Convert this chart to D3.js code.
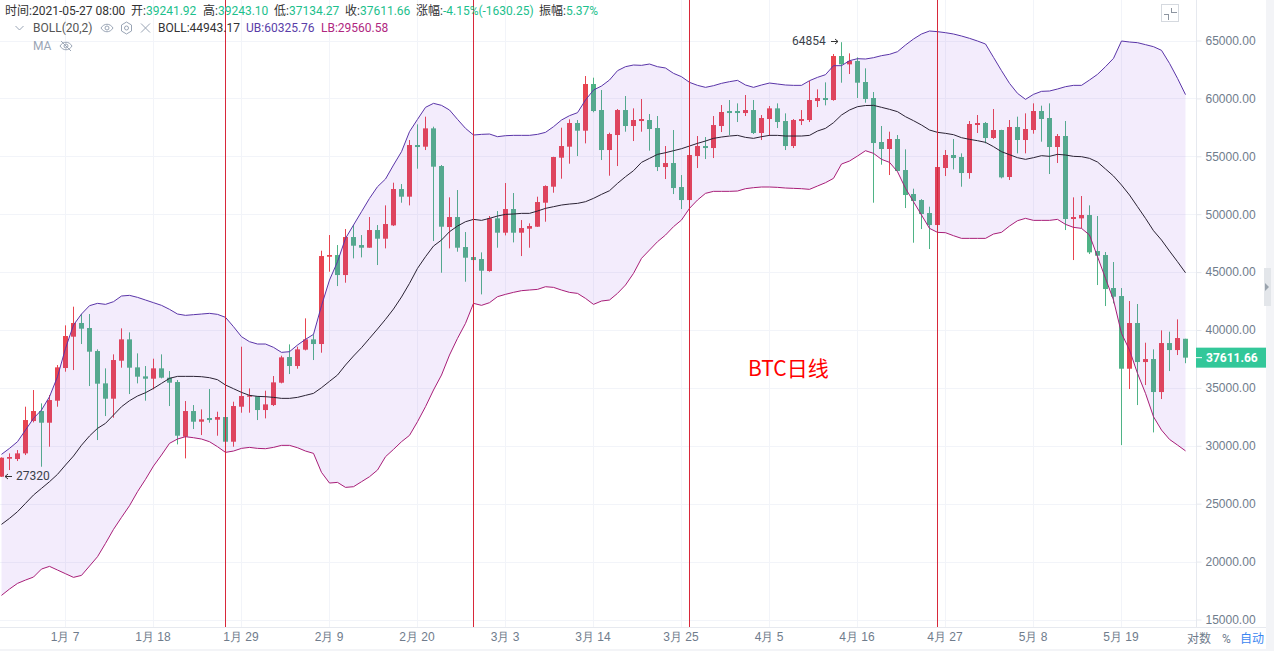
<!DOCTYPE html>
<html>
<head>
<meta charset="utf-8">
<script src="https://cdn.jsdelivr.net/npm/d3@7/dist/d3.min.js"></script>
<style>
  html, body { margin: 0; padding: 0; background: #fff; overflow: hidden; }
  svg { display: block; font-family: Roboto, "Noto Sans CJK SC", sans-serif; font-size: 12px; }
</style>
</head>
<body>
<svg id="chart" width="1274" height="651"></svg>
<script>
// daily candles, first one is 2020-12-30
const firstDay = "2020-12-30";
const opens = [27331,28885,28857,29346,32138,33002,31994,33895,36716,39422,
  40603,40171,38184,35392,34067,37350,39192,36774,35996,35795,
  36687,35881,35507,30786,33002,32081,32398,32254,32484,30353,
  33377,34240,34269,33089,33520,35449,37666,36889,38300,39192,
  38789,46329,46473,44746,48028,47337,47107,48633,47884,49036,
  52174,51512,55974,55830,57413,54160,48892,49755,47164,46300,
  46128,45092,49640,48402,50446,48402,48748,48920,50993,52375,
  54880,55830,57874,57212,61242,58997,55542,56837,58996,57615,
  58046,58133,57442,54073,54419,52346,51223,55023,55887,55714,
  57615,58910,58910,58737,58996,57010,58219,59140,58046,55887,
  58046,58133,59773,60033,59860,63660,62941,63228,61415,60033,
  56234,55629,56493,53815,51743,51224,50101,49065,53988,55111,
  54938,53556,57702,57875,56579,57270,53211,57529,56407,57270,
  58911,58307,55802,56752,49583,49641,49929,46820,46475,43625,
  42933,36657,40602,37233,37492,34642,38874,38269,39241.92];
const closes = [28971,29030,29346,32225,33002,31994,33952,36774,39480,40603,
  40113,38127,35363,34067,37407,39192,36745,35968,35795,36687,
  35881,35449,30872,33002,32081,32283,32225,32484,30353,33434,
  34298,34355,33089,33578,35478,37637,36889,38328,39192,38789,
  46387,46473,44746,48028,47279,47107,48633,47884,49151,52174,
  51512,55974,55801,57413,54103,48920,49755,47107,46243,46041,
  45120,49640,48402,50446,48402,48805,48978,51051,52433,54938,
  55888,57874,57212,61242,58910,55542,56924,58996,57615,58133,
  58219,57355,54073,54419,52260,51223,55110,55887,55714,57701,
  58824,58737,58737,58996,57010,58305,59140,57960,55887,58133,
  58219,59860,60033,59860,63660,62941,63228,61357,59946,56146,
  55629,56493,53729,51656,51138,50015,49065,54075,55111,54852,
  53556,57788,57875,56579,57270,53182,57529,56407,57357,58911,
  58220,55802,56752,49583,49756,49929,46704,46417,43538,42876,
  36657,40602,37233,37492,34642,38874,38269,39306,37611.66];
const highs = [29000,29346,29634,33377,34816,33664,34384,36975,40401,42014,
  41380,41380,38328,36687,37897,40142,39797,37983,36889,37522,
  37897,36457,35680,33866,33520,33146,34902,32945,32557,33808,
  38559,34960,34298,34758,36025,37781,38760,38559,41006,39624,
  46848,48200,47337,48719,49064,48200,49755,49064,50763,52721,
  52606,56406,57759,58421,57557,54247,51454,52087,48460,48394,
  46703,49842,50273,52692,51828,49496,49208,51512,52490,54960,
  57471,58191,58133,61933,61789,60724,57039,59083,60206,59140,
  59946,58651,58478,55887,57269,53382,55200,56751,56664,58478,
  59428,59860,59572,60292,59860,58565,59342,59572,58709,58219,
  58996,61501,60781,61386,63833,64854,63891,63545,62595,60551,
  57616,57126,56838,55600,52203,51300,50648,54300,55543,56493,
  55255,58048,58566,57961,59084,57290,58134,58422,58710,59573,
  59372,59573,56925,58048,51455,51570,50764,49843,46734,45870,
  43624,42502,42243,38903,38327,39968,39853,40918,39243.10];
const lows = [27320,27907,28684,29202,32023,28194,29922,33376,36400,36543,
  38789,35161,30498,32570,32426,36745,34470,35392,33895,34874,
  35824,33434,30123,28914,31448,30929,31994,30872,29241,29922,
  32858,32858,32225,32369,33434,35392,36198,36659,38240,37407,
  38040,45034,43796,44084,46186,46272,47107,45610,47049,48978,
  50993,50763,53930,55542,47683,44947,47049,46761,44170,45000,
  43076,45034,47107,48172,47567,46387,47107,48900,49352,51857,
  53066,54362,55024,56117,58800,54678,53325,54160,57125,56319,
  57125,55484,53727,53037,51741,50446,51000,53987,54764,54850,
  57096,56837,57960,58478,56924,56405,56751,57442,55542,55714,
  57701,57960,59255,59400,59800,61357,62106,60033,59630,50993,
  54276,53383,53700,50533,47539,48719,46992,48753,53297,53873,
  52376,53067,57011,56119,56493,53096,52952,55255,55255,56954,
  56263,53470,54420,48633,46042,48777,46560,43883,42070,42300,
  30064,34901,33519,35247,31158,34037,36456,37838,37134.27];

// BOLL(20,2) lines
const bollMid = [23215,23733,24309,25029,25749,26324,26900,27534,28340,29117,
  30050,30850,31505,31937,32656,33376,33895,34298,34586,34960,
  35392,35824,35996,35996,35996,35968,35881,35708,35248,34931,
  34614,34355,34269,34240,34183,34096,34096,34183,34355,34528,
  35017,35565,36111,36975,37753,38472,39278,40085,40919,41812,
  42850,44026,45322,46329,47250,47769,48489,48978,49352,49554,
  49467,49640,49842,49986,50015,50072,50072,50274,50504,50648,
  50792,50878,50936,51080,51367,51713,52029,52663,53238,53757,
  54476,54822,55167,55311,55484,55657,55887,56118,56319,56550,
  56664,56751,56808,56635,56550,56693,56808,56808,56751,56751,
  56751,56808,57183,57413,57902,58564,58996,59284,59385,59400,
  59228,59055,58854,58422,58076,57702,57270,57069,56982,56867,
  56608,56464,56349,56205,55831,55399,55140,54881,54737,54881,
  55053,54996,55169,55111,54996,54967,54823,54506,53902,53297,
  52520,51656,50649,49641,48576,47769,46819,45898,44943.17];
const bollUp = [29260,29778,30354,31361,32369,33089,34240,35968,38415,40430,
  41380,42100,42301,42215,42445,42935,42992,42820,42589,42359,
  42129,41783,41380,41265,41323,41380,41438,41351,41092,40286,
  39422,38990,38789,38789,38501,38069,38127,38703,39192,39624,
  42100,44314,45897,47913,49064,50216,51367,52375,53038,54246,
  55398,57126,58191,59227,59573,59400,58997,58191,57413,56838,
  56895,56924,56694,56780,56809,56809,56809,56895,57068,57557,
  58133,58508,58767,59861,60724,61069,61588,62394,62739,62883,
  62854,62969,62739,62624,62163,61875,61386,61127,60954,61098,
  61300,61444,61559,61156,60954,61156,61328,61242,61156,61127,
  61127,61530,61818,62048,62825,62825,63257,63430,63402,63517,
  63690,63805,64035,64611,65129,65561,65820,65763,65676,65561,
  65388,65187,64956,64697,63546,62394,61300,60436,59918,60350,
  60609,60638,60811,61012,61127,61127,61588,62077,62740,63459,
  64956,64870,64812,64640,64467,64150,63027,61732,60325.76];
const bollLow = [17083,17630,18119,18407,18666,19357,19588,19271,18954,18638,
  18810,19616,20422,21574,22783,23820,24827,26036,27102,28253,
  29203,30211,30585,30786,30699,30584,30353,29922,29432,29547,
  29778,29864,29778,29749,29864,30037,30037,29835,29547,29346,
  27705,26784,26841,26409,26467,26899,27331,27907,29058,29691,
  30353,30901,32081,33377,34816,36111,37839,39278,40574,42301,
  42129,42359,42877,43079,43251,43395,43453,43508,43738,43681,
  43450,43249,43162,42731,42214,42502,42588,43164,43884,44891,
  46187,46906,47626,48202,48922,49498,50505,51225,51801,51973,
  51973,51973,52002,52204,52290,52348,52348,52319,52261,52232,
  52204,52146,52434,52722,53096,54332,54592,55023,55484,55255,
  54737,54478,53671,52232,51080,49929,48777,48432,48403,48144,
  47913,47913,47913,47913,48288,48432,48979,49439,49641,49468,
  49468,49468,49554,49123,48864,48777,48202,46331,44459,42588,
  39709,38269,36254,34527,32511,31360,30553,30064,29560.58];

const priceTicks = [15000,20000,25000,30000,35000,40000,45000,50000,55000,60000,65000];
const dateTicks = ["2021-01-07","2021-01-18","2021-01-29","2021-02-09","2021-02-20","2021-03-03",
  "2021-03-14","2021-03-25","2021-04-05","2021-04-16","2021-04-27","2021-05-08","2021-05-19"];
const markerDays = ["2021-01-27","2021-02-27","2021-03-26","2021-04-26"];
const lastPrice = 37611.66, maxPrice = 64854, minPrice = 27320;
const infoLine = [["时间:", "2021-05-27 08:00", 5], ["开:", "39241.92", 131], ["高:", "39243.10", 203],
  ["低:", "37134.27", 274], ["收:", "37611.66", 345], ["涨幅:", "-4.15%(-1630.25)", 416], ["振幅:", "5.37%", 539]];

const UP = "#e8444f", DOWN = "#4fb386", GRID = "#f2f4f9", AXIS = "#e6e9ef", LABEL = "#6f7c8c";
const plotW = 1196, plotH = 627;

const parseDay = d3.utcParse("%Y-%m-%d");
const start = parseDay(firstDay);
const candles = opens.map((o, i) => ({
  date: d3.utcDay.offset(start, i), o, h: highs[i], l: lows[i], c: closes[i],
  mid: bollMid[i], ub: bollUp[i], lb: bollLow[i]
}));

const x = d3.scaleUtc().domain([start, candles[candles.length - 1].date]).range([1.5, 1185.5]);
const y = d3.scaleLinear().domain([15000, 65000]).range([619.5, 40.5]);

const svg = d3.select("#chart");
svg.append("defs").append("clipPath").attr("id", "plot")
  .append("rect").attr("width", plotW).attr("height", plotH);

// background strips
svg.append("rect").attr("x", 1266).attr("width", 8).attr("height", 651).attr("fill", "#f3f4f7");
svg.append("rect").attr("y", 649).attr("width", 1274).attr("height", 2).attr("fill", "#f3f4f7");
svg.append("rect").attr("x", 1264).attr("y", 268).attr("width", 7).attr("height", 38).attr("fill", "#e3e6ea");
svg.append("path").attr("d", "M1265 283l4 4l-4 4z").attr("fill", "#9aa3ad");

// grid
const grid = svg.append("g").attr("clip-path", "url(#plot)").attr("shape-rendering", "crispEdges");
grid.selectAll(".gy").data(priceTicks).join("line")
  .attr("x1", 0).attr("x2", plotW).attr("y1", d => Math.round(y(d)) + 0.5).attr("y2", d => Math.round(y(d)) + 0.5)
  .attr("stroke", GRID);
grid.selectAll(".gx").data(dateTicks).join("line")
  .attr("x1", d => x(parseDay(d))).attr("x2", d => x(parseDay(d))).attr("y1", 0).attr("y2", plotH)
  .attr("stroke", GRID);

// candles go under the translucent band
const plot = svg.append("g").attr("clip-path", "url(#plot)");
const bars = plot.append("g").selectAll("g").data(candles).join("g")
  .attr("fill", d => d.c >= d.o ? UP : DOWN);
bars.append("rect").attr("x", d => x(d.date) - 0.5).attr("width", 1)
  .attr("y", d => y(d.h)).attr("height", d => y(d.l) - y(d.h));
bars.append("rect").attr("x", d => x(d.date) - 2.5).attr("width", 5)
  .attr("y", d => y(Math.max(d.o, d.c))).attr("height", d => Math.max(1, Math.abs(y(d.o) - y(d.c))));

const area = d3.area().x(d => x(d.date)).y0(d => y(d.lb)).y1(d => y(d.ub));
plot.append("path").datum(candles).attr("d", area).attr("fill", "rgba(139,77,226,0.105)");

const lineOf = key => d3.line().x(d => x(d.date)).y(d => y(d[key]));
[["ub", "#5a35a8"], ["lb", "#a81e78"], ["mid", "#2a2233"]].forEach(([key, color]) => {
  plot.append("path").datum(candles).attr("d", lineOf(key))
    .attr("fill", "none").attr("stroke", color).attr("stroke-width", 1);
});

// hand drawn marker lines
svg.append("g").attr("shape-rendering", "crispEdges").selectAll("line").data(markerDays).join("line")
  .attr("x1", d => x(parseDay(d))).attr("x2", d => x(parseDay(d))).attr("y1", 0).attr("y2", plotH)
  .attr("stroke", "#d8283a");

// axes
const yAxis = d3.axisRight(y).tickValues(priceTicks).tickSize(5).tickPadding(4).tickFormat(d3.format(".2f"));
const gy = svg.append("g").attr("transform", `translate(${plotW + 0.5},0)`).call(yAxis);
gy.select(".domain").remove();
gy.selectAll("line").attr("stroke", AXIS);
gy.selectAll("text").attr("fill", LABEL).style("font-size", "12px");
svg.append("line").attr("x1", plotW + 0.5).attr("x2", plotW + 0.5).attr("y1", 0).attr("y2", plotH).attr("stroke", AXIS);

const xAxis = d3.axisBottom(x).tickValues(dateTicks.map(parseDay)).tickSize(0).tickPadding(5)
  .tickFormat(d => `${d.getUTCMonth() + 1}月 ${d.getUTCDate()}`);
const gx = svg.append("g").attr("transform", `translate(-1,${plotH + 0.5})`).call(xAxis);
gx.select(".domain").remove();
gx.selectAll("text").attr("fill", LABEL).style("font-size", "12px");
svg.append("line").attr("x1", 0).attr("x2", 1266).attr("y1", plotH + 0.5).attr("y2", plotH + 0.5).attr("stroke", AXIS);

// axis corner buttons
[["对数", 1187, LABEL], ["%", 1222, LABEL], ["自动", 1240, "#3b86f0"]].forEach(([t, px, c]) => {
  svg.append("text").attr("x", px).attr("y", 643).attr("fill", c).text(t);
});

// last price tag
const lastY = y(lastPrice);
svg.append("rect").attr("x", plotW).attr("y", lastY - 10).attr("width", 70).attr("height", 20).attr("fill", "#33c799");
svg.append("line").attr("x1", plotW).attr("x2", plotW + 6).attr("y1", lastY).attr("y2", lastY).attr("stroke", "#fff");
svg.append("text").attr("x", 1206).attr("y", lastY + 4.5).attr("fill", "#fff").attr("font-weight", 700)
  .text(lastPrice.toFixed(2));

// extreme labels
const note = (t, px, py) => svg.append("text").attr("x", px).attr("y", py).attr("fill", "#3a3f4a").text(t);
note(String(maxPrice), 792, 45);
note(String(minPrice), 16, 480);
const arrow = (x1, x2, py) => {
  const dir = x2 > x1 ? -1 : 1;
  svg.append("path").attr("fill", "none").attr("stroke", "#333")
    .attr("d", `M${x1} ${py}H${x2}M${x2 + dir * 3} ${py - 2.5}L${x2} ${py}L${x2 + dir * 3} ${py + 2.5}`);
};
arrow(831, 838, 41.5);
arrow(12, 5, 476.5);

svg.append("text").attr("x", 748).attr("y", 375.5).attr("fill", "#ff0000")
  .style("font-size", "21px").style("font-family", '"Noto Sans CJK SC", sans-serif').text("BTC日线");

// legend
infoLine.forEach(([label, value, px]) => {
  const t = svg.append("text").attr("x", px).attr("y", 15);
  t.append("tspan").attr("fill", "#333").text(label);
  t.append("tspan").attr("fill", label === "时间:" ? "#333" : "#1cc08c").text(value);
});
svg.append("text").attr("x", 33).attr("y", 32).attr("fill", "#555").text("BOLL(20,2)");
svg.append("text").attr("x", 158).attr("y", 32).attr("fill", "#333").text("BOLL:44943.17");
svg.append("text").attr("x", 246).attr("y", 32).attr("fill", "#5a3ea8").text("UB:60325.76");
svg.append("text").attr("x", 321).attr("y", 32).attr("fill", "#b0277f").text("LB:29560.58");
svg.append("text").attr("x", 33).attr("y", 50).attr("fill", "#9aa5b5").text("MA");

// legend icons
const icons = svg.append("g").attr("fill", "none").attr("stroke", "#9aa5b5");
icons.append("path").attr("d", "M15.5 26l4 4l4 -4");
icons.append("path").attr("d", "M101 28c3 -5 9 -5 12 0c-3 5 -9 5 -12 0z");
icons.append("circle").attr("cx", 107).attr("cy", 28).attr("r", 2);
icons.append("path").attr("d", "M126.5 22l5 3v6l-5 3l-5 -3v-6z");
icons.append("circle").attr("cx", 126.5).attr("cy", 28).attr("r", 2);
icons.append("path").attr("d", "M141 23.5l9 9M150 23.5l-9 9");
icons.append("path").attr("d", "M60 46c3 -5 9 -5 12 0c-3 5 -9 5 -12 0z");
icons.append("circle").attr("cx", 66).attr("cy", 46).attr("r", 2);
icons.append("path").attr("d", "M61 41l10 10");

// zoom button top right
const zoomBtn = svg.append("g").attr("fill", "none").attr("stroke", "#d5d9df").attr("shape-rendering", "crispEdges");
zoomBtn.append("rect").attr("x", 1161.5).attr("y", 4.5).attr("width", 17).attr("height", 17).attr("fill", "#fff");
zoomBtn.append("path").attr("stroke", "#8d95a0").attr("d", "M1171.5 7.5v5h5M1163.5 14.5h5v5");
</script>
</body>
</html>
